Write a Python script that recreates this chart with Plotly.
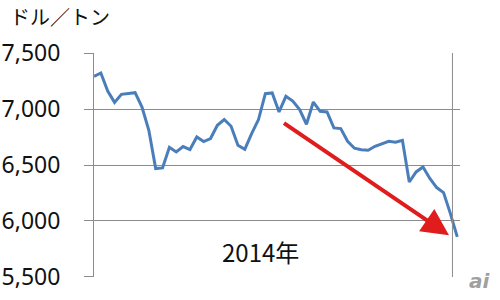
import plotly.graph_objects as go

# Weekly copper price (USD/ton)
week_index = list(range(54))
price = [7294, 7324, 7163, 7061, 7133, 7142, 7148, 7019, 6811, 6468,
         6474, 6659, 6617, 6665, 6638, 6751, 6710, 6737, 6856, 6907,
         6847, 6677, 6641, 6781, 6907, 7139, 7145, 6975, 7115, 7073,
         6996, 6865, 7064, 6981, 6975, 6832, 6826, 6712, 6650, 6636,
         6632, 6668, 6692, 6712, 6704, 6721, 6348, 6438, 6482, 6379,
         6298, 6253, 6065, 5856]
y_ticks = [5500, 6000, 6500, 7000, 7500]
y_tick_text = ["5,500", "6,000", "6,500", "7,000", "7,500"]
unit_label = "ドル／トン"
year_label = "2014年"

# Trend arrow (data coordinates: week index, price)
arrow_tail = (27.5, 6885)
arrow_head = (51.8, 5870)

GRID = "#8c8c8c"

fig = go.Figure()
fig.add_trace(go.Scatter(
    x=week_index, y=price, mode="lines",
    line=dict(color="#4a7ebb", width=3),
    hoverinfo="skip", showlegend=False,
))

fig.add_annotation(
    x=arrow_head[0], y=arrow_head[1], ax=arrow_tail[0], ay=arrow_tail[1],
    xref="x", yref="y", axref="x", ayref="y",
    text="", showarrow=True, arrowhead=2, arrowsize=1.35,
    arrowwidth=4, arrowcolor="#e01c1c",
)
fig.add_annotation(
    x=24.3, y=5725, xref="x", yref="y", text=year_label, showarrow=False,
    font=dict(family="Noto Sans CJK JP", size=24, color="#111111"),
)
fig.add_annotation(
    x=-0.235, y=1.165, xref="paper", yref="paper", xanchor="left", yanchor="middle",
    text=unit_label, showarrow=False,
    font=dict(family="Noto Sans CJK JP", size=20, color="#111111"),
)
# right-hand vertical line
fig.add_shape(type="line", xref="x", yref="paper", x0=52.3, x1=52.3, y0=0, y1=1,
              line=dict(color=GRID, width=1))
# watermark
fig.add_annotation(
    x=1.02, y=-0.02, xref="paper", yref="paper", xanchor="left", yanchor="middle",
    text="<b><i>ai</i></b>", showarrow=False,
    font=dict(family="DejaVu Sans", size=20, color="#a0a0a0"),
)

fig.update_layout(
    width=500, height=300,
    margin=dict(l=94, r=40, t=53, b=23, autoexpand=False),
    paper_bgcolor="white", plot_bgcolor="white",
    xaxis=dict(range=[0, 53.4], showgrid=False, zeroline=False, automargin=False,
               showticklabels=False, ticks="", showline=False),
    yaxis=dict(range=[5497, 7503], tickvals=y_ticks, ticktext=y_tick_text,
               showgrid=True, gridcolor=GRID, gridwidth=1, zeroline=False,
               automargin=False,
               ticks="outside", ticklen=9, tickcolor=GRID,
               showline=True, linecolor=GRID, linewidth=1,
               ticklabelstandoff=19,
               tickfont=dict(family="Noto Sans", size=23, color="#111111")),
)

fig.write_html("out.html")
